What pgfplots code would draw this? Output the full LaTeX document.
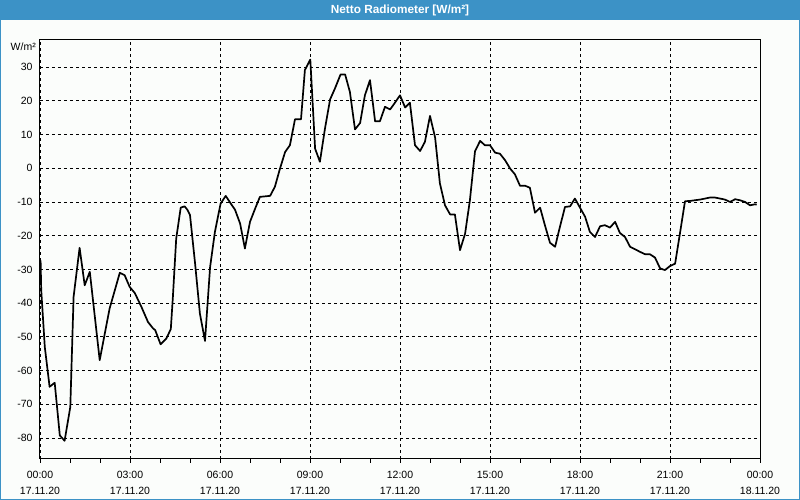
\documentclass[border=0pt]{standalone}
\usepackage{pgfplots}
\pgfplotsset{compat=1.18}
\usepackage{fontspec}
\setmainfont{Liberation Sans}
\definecolor{barblue}{RGB}{60,146,198}
\definecolor{bg}{RGB}{251,253,251}
\begin{document}
\begin{tikzpicture}[x=1pt,y=1pt]
\fill[bg] (0,0) rectangle (800,500);
\fill[barblue] (0,480) rectangle (800,500);
\draw[barblue,line width=1pt] (0.5,0.5) rectangle (799.5,499.5);
\node[white,font=\fontsize{11.8}{13}\selectfont\bfseries] at (400,490) {Netto Radiometer [W/m²]};
\begin{axis}[at={(40pt,41pt)}, anchor=south west, scale only axis,
  width=720pt, height=419pt,
  xmin=0, xmax=24, ymin=-86.2, ymax=38,
  xtick={0,3,...,24},
  xticklabels={{00:00\\17.11.20},{03:00\\17.11.20},{06:00\\17.11.20},{09:00\\17.11.20},{12:00\\17.11.20},{15:00\\17.11.20},{18:00\\17.11.20},{21:00\\17.11.20},{00:00\\18.11.20}},
  xticklabel style={align=center, font=\fontsize{10.5}{15.5}\selectfont, yshift=-5pt},
  minor x tick num=2,
  ytick={-80,-70,-60,-50,-40,-30,-20,-10,0,10,20,30},
  yticklabels={-80,-70,-60,-50,-40,-30,-20,-10,0,10,20,30},
  yticklabel style={font=\fontsize{10.5}{12}\selectfont},
  grid=major,
  major grid style={black, line width=0.8pt, dash pattern=on 3pt off 3pt},
  axis line style={black, line width=1pt},
  tick align=outside, xtick pos=left, ytick pos=left,
  major tick length=4pt, minor tick length=4pt,
  tick style={black, line width=0.8pt},
  ytick style={draw=none},
  clip=true,
]
\addplot[black, line width=1.7pt, line join=round] table {
x y
0.02 -27.3
0.04 -36
0.16 -53
0.32 -64.8
0.49 -63.6
0.66 -79.2
0.82 -80.8
1.01 -70.8
1.12 -38.1
1.32 -23.6
1.49 -34.7
1.66 -30.7
1.99 -56.9
2.32 -41.6
2.66 -31.0
2.82 -31.7
2.99 -35.2
3.16 -37.0
3.38 -41.1
3.60 -45.6
3.77 -47.5
3.84 -48.0
4.02 -52.2
4.21 -50.5
4.36 -47.7
4.43 -38.1
4.54 -20.9
4.69 -11.7
4.82 -11.3
4.91 -12.3
5.00 -13.9
5.17 -28.3
5.33 -43.1
5.50 -51.2
5.67 -29.3
5.83 -18.9
6.02 -10.5
6.19 -8.2
6.36 -10.5
6.50 -12.3
6.67 -16.4
6.83 -23.8
7.00 -15.9
7.17 -12.0
7.33 -8.5
7.67 -8.2
7.83 -5.5
8.00 -0.1
8.17 4.8
8.33 6.8
8.50 14.5
8.70 14.5
8.83 29.1
9.01 32.2
9.17 5.8
9.33 1.9
9.50 11.8
9.67 20.4
9.83 23.6
10.02 27.8
10.17 27.8
10.33 22.6
10.50 11.5
10.67 13.4
10.83 21.6
11.00 26.1
11.17 13.9
11.33 13.9
11.50 18.2
11.67 17.4
11.83 19.4
12.00 21.6
12.17 18.0
12.33 19.4
12.50 6.8
12.67 5.1
12.83 7.8
13.00 15.5
13.17 9.1
13.33 -4.5
13.50 -11.0
13.67 -13.7
13.83 -13.7
14.00 -24.3
14.17 -19.4
14.33 -9.5
14.50 5.0
14.67 8.1
14.83 6.8
15.00 6.8
15.17 4.6
15.33 4.3
15.50 2.4
15.67 -0.1
15.83 -1.8
16.00 -5.2
16.17 -5.2
16.33 -5.8
16.50 -13.2
16.67 -11.7
16.83 -16.9
17.00 -22.1
17.17 -23.3
17.33 -17.4
17.50 -11.5
17.67 -11.3
17.83 -9.0
18.00 -11.7
18.17 -14.4
18.33 -18.9
18.50 -20.4
18.67 -17.2
18.83 -16.9
19.00 -17.6
19.17 -15.9
19.33 -19.2
19.50 -20.4
19.67 -23.3
19.83 -24.0
20.00 -24.8
20.17 -25.5
20.33 -25.5
20.50 -26.5
20.67 -29.7
20.83 -30.2
21.00 -29.0
21.17 -28.3
21.33 -19.4
21.50 -9.8
21.67 -9.7
21.83 -9.5
22.00 -9.3
22.17 -9.0
22.33 -8.7
22.50 -8.7
22.67 -9.0
22.83 -9.3
23.00 -10.0
23.17 -9.2
23.33 -9.5
23.50 -10.0
23.67 -11.0
23.83 -10.7
23.89 -10.8
};
\end{axis}
\node[anchor=east, font=\fontsize{10.5}{12}\selectfont, inner sep=0pt] at (36,453) {W/m²};
\pgfresetboundingbox
\useasboundingbox (0,0) rectangle (800,500);
\end{tikzpicture}
\end{document}
